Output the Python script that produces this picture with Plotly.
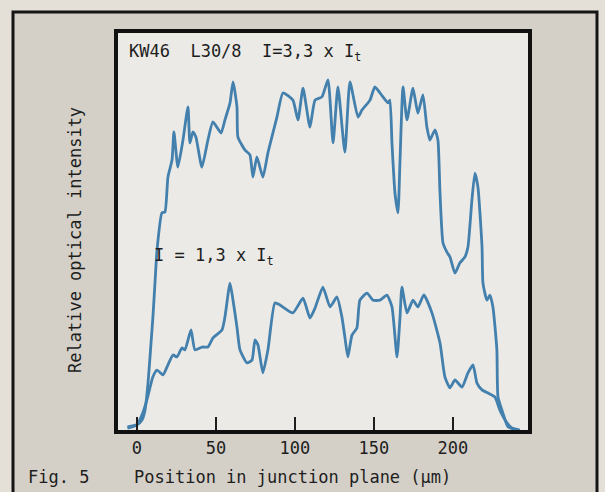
import plotly.graph_objects as go

# position along the junction plane (um) and relative intensity (% of plot height)
upper_x = [-6, 0, 3.2, 5.1, 7.0, 8.9, 10.1, 11.4, 12.7, 15.8, 17.7, 19.6, 22.2, 23.4, 25.9,
           29.1, 32.3, 33.5, 35.4, 37.3, 41.1, 44.9, 48.1, 53.2, 55.7, 58.9, 60.8, 63.3, 63.9,
           68.4, 71.5, 73.4, 75.9, 79.7, 82.9, 88.6, 92.4, 98.7, 101.9, 105.1, 109.5, 112.7,
           117.1, 120.9, 124.1, 127.2, 131.6, 134.8, 139.9, 142.4, 147.5, 150.6, 155.7, 158.9,
           160.1, 161.4, 163.3, 165.2, 166.5, 168.4, 170.9, 174.7, 177.8, 181.0, 183.5, 185.4,
           188.6, 190.5, 191.8, 193.7, 196.2, 198.1, 201.3, 204.4, 207.6, 209.5, 212.0, 213.9,
           215.8, 218.4, 219.0, 221.5, 223.4, 225.3, 227.8, 228.5, 231.6, 234.8, 241.1]
upper_y = [0.8, 1.3, 2.5, 5.0, 11.8, 21.9, 28.5, 37.0, 45.3, 54.7, 54.9, 63.7, 68.0, 75.1, 66.2,
           73.0, 81.4, 72.3, 75.1, 73.8, 66.2, 73.0, 77.6, 74.8, 78.1, 82.4, 87.7, 81.4, 73.8,
           70.5, 69.3, 63.7, 68.8, 63.7, 69.8, 78.8, 84.9, 83.1, 78.1, 86.1, 76.3, 83.1,
           83.9, 88.2, 72.3, 86.4, 70.0, 87.7, 78.8, 80.6, 83.1, 86.4, 83.9, 82.4,
           83.1, 72.3, 59.7, 54.7, 68.0, 86.4, 78.1, 86.1, 79.8, 84.4, 76.3, 73.0,
           75.6, 73.0, 59.7, 47.1, 44.8, 43.6, 39.5, 42.1, 43.6, 46.1, 57.9, 64.7,
           61.2, 46.1, 37.0, 32.7, 34.0, 31.0, 20.2, 8.3, 4.3, 0.8, 0]

lower_x = [-6, 0, 3.2, 6.3, 10.1, 12.7, 16.5, 19.6, 22.8, 25.3, 28.5, 30.4, 34.2, 36.7, 41.1,
           44.9, 48.1, 53.8, 55.7, 58.9, 60.8, 63.3, 65.2, 69.6, 72.8, 74.7, 76.6, 79.7, 82.9,
           87.3, 90.5, 98.7, 105.1, 109.5, 112.7, 117.7, 122.2, 126.6, 129.7, 131.6, 133.5,
           136.1, 139.2, 141.1, 145.6, 149.4, 153.8, 158.2, 161.4, 164.6, 166.5, 167.7, 170.9,
           174.7, 177.8, 181.6, 186.7, 191.8, 194.9, 198.1, 201.3, 205.7, 209.5, 212.7, 215.2,
           218.4, 222.2, 226.6, 229.7, 234.2, 237.3, 242.4]
lower_y = [0.5, 1.3, 3.8, 7.6, 13.4, 15.1, 13.9, 16.4, 18.9, 18.4, 20.7, 20.2, 25.2, 20.2, 20.9,
           20.9, 23.2, 25.2, 28.5, 37.0, 32.7, 25.9, 20.2, 16.9, 17.6, 22.7, 21.4, 14.4, 20.2,
           32.0, 31.5, 29.5, 33.2, 28.2, 30.7, 36.0, 31.0, 33.5, 28.5, 23.4, 18.4,
           23.9, 25.7, 32.7, 34.5, 32.7, 32.7, 34.0, 31.0, 18.4, 28.5, 36.0, 29.5,
           32.7, 31.0, 34.0, 29.5, 21.9, 13.4, 10.6, 12.6, 10.8, 14.4, 16.4, 11.8,
           10.1, 9.3, 8.3, 5.0, 1.8, 0.5, 0]

assert len(upper_x) == len(upper_y) and len(lower_x) == len(lower_y)

x_ticks = [0, 50, 100, 150, 200]

W, H = 605, 492
L, R, T, B = 118, 77, 33, 62
PW, PH = W - L - R, H - T - B
FONT = "DejaVu Sans Mono"
INK = "#1e1e1e"
BLUE = "#4380ad"
PAGE = "#e4e0d8"


# figure pixels -> paper coordinates (paper = plot area)
def px(x):
    return (x - L) / PW


def py(y):
    return (H - B - y) / PH


fig = go.Figure()
for xs, ys in [(upper_x, upper_y), (lower_x, lower_y)]:
    fig.add_trace(go.Scatter(x=xs, y=ys, mode="lines",
                             line=dict(color=BLUE, width=2.8, shape="spline", smoothing=0.5),
                             showlegend=False, hoverinfo="skip"))

fig.update_layout(
    width=W, height=H,
    margin=dict(l=L, r=R, t=T, b=B),
    paper_bgcolor=PAGE,
    plot_bgcolor="#ebeae6",
    font=dict(family=FONT, size=17, color=INK),
    xaxis=dict(range=[-12, 247.5], tickvals=x_ticks, ticks="inside", ticklen=13,
               tickwidth=1.5, tickcolor=INK, showgrid=False, zeroline=False,
               showline=True, mirror=True, linecolor="#111", linewidth=3.5,
               tickfont=dict(family=FONT, size=17, color=INK)),
    yaxis=dict(range=[0, 100], showticklabels=False, ticks="", showgrid=False,
               zeroline=False, showline=True, mirror=True, linecolor="#111", linewidth=3.5),
    shapes=[
        dict(type="rect", xref="paper", yref="paper", layer="below",
             x0=px(13), x1=px(597), y0=py(498), y1=py(12),
             fillcolor="#d4d0c8", line=dict(color="#151515", width=3)),
        dict(type="rect", xref="paper", yref="paper", layer="below",
             x0=0, x1=1, y0=0, y1=1, fillcolor="#ebeae6", line=dict(width=0)),
    ],
    annotations=[
        dict(text="KW46  L30/8  I=3,3 x I<sub>t</sub>", xref="paper", yref="paper",
             x=px(127), y=py(52), xanchor="left", yanchor="middle", showarrow=False),
        dict(text="I = 1,3 x I<sub>t</sub>", xref="paper", yref="paper",
             x=px(152), y=py(256), xanchor="left", yanchor="middle", showarrow=False),
        dict(text="Relative optical intensity", xref="paper", yref="paper", textangle=-90,
             x=px(75), y=py(240), xanchor="center", yanchor="middle", showarrow=False),
        dict(text="Position in junction plane (µm)", xref="paper", yref="paper",
             x=px(132), y=py(477), xanchor="left", yanchor="middle", showarrow=False),
        dict(text="Fig. 5", xref="paper", yref="paper",
             x=px(26), y=py(477), xanchor="left", yanchor="middle", showarrow=False),
    ],
)

# drop the page's default 8px body margin so the figure sits at the window origin
fig.write_html("out.html",
               config={"displayModeBar": False},
               post_script=f"document.body.style.margin='0';"
                           f"document.body.style.background='{PAGE}';")
